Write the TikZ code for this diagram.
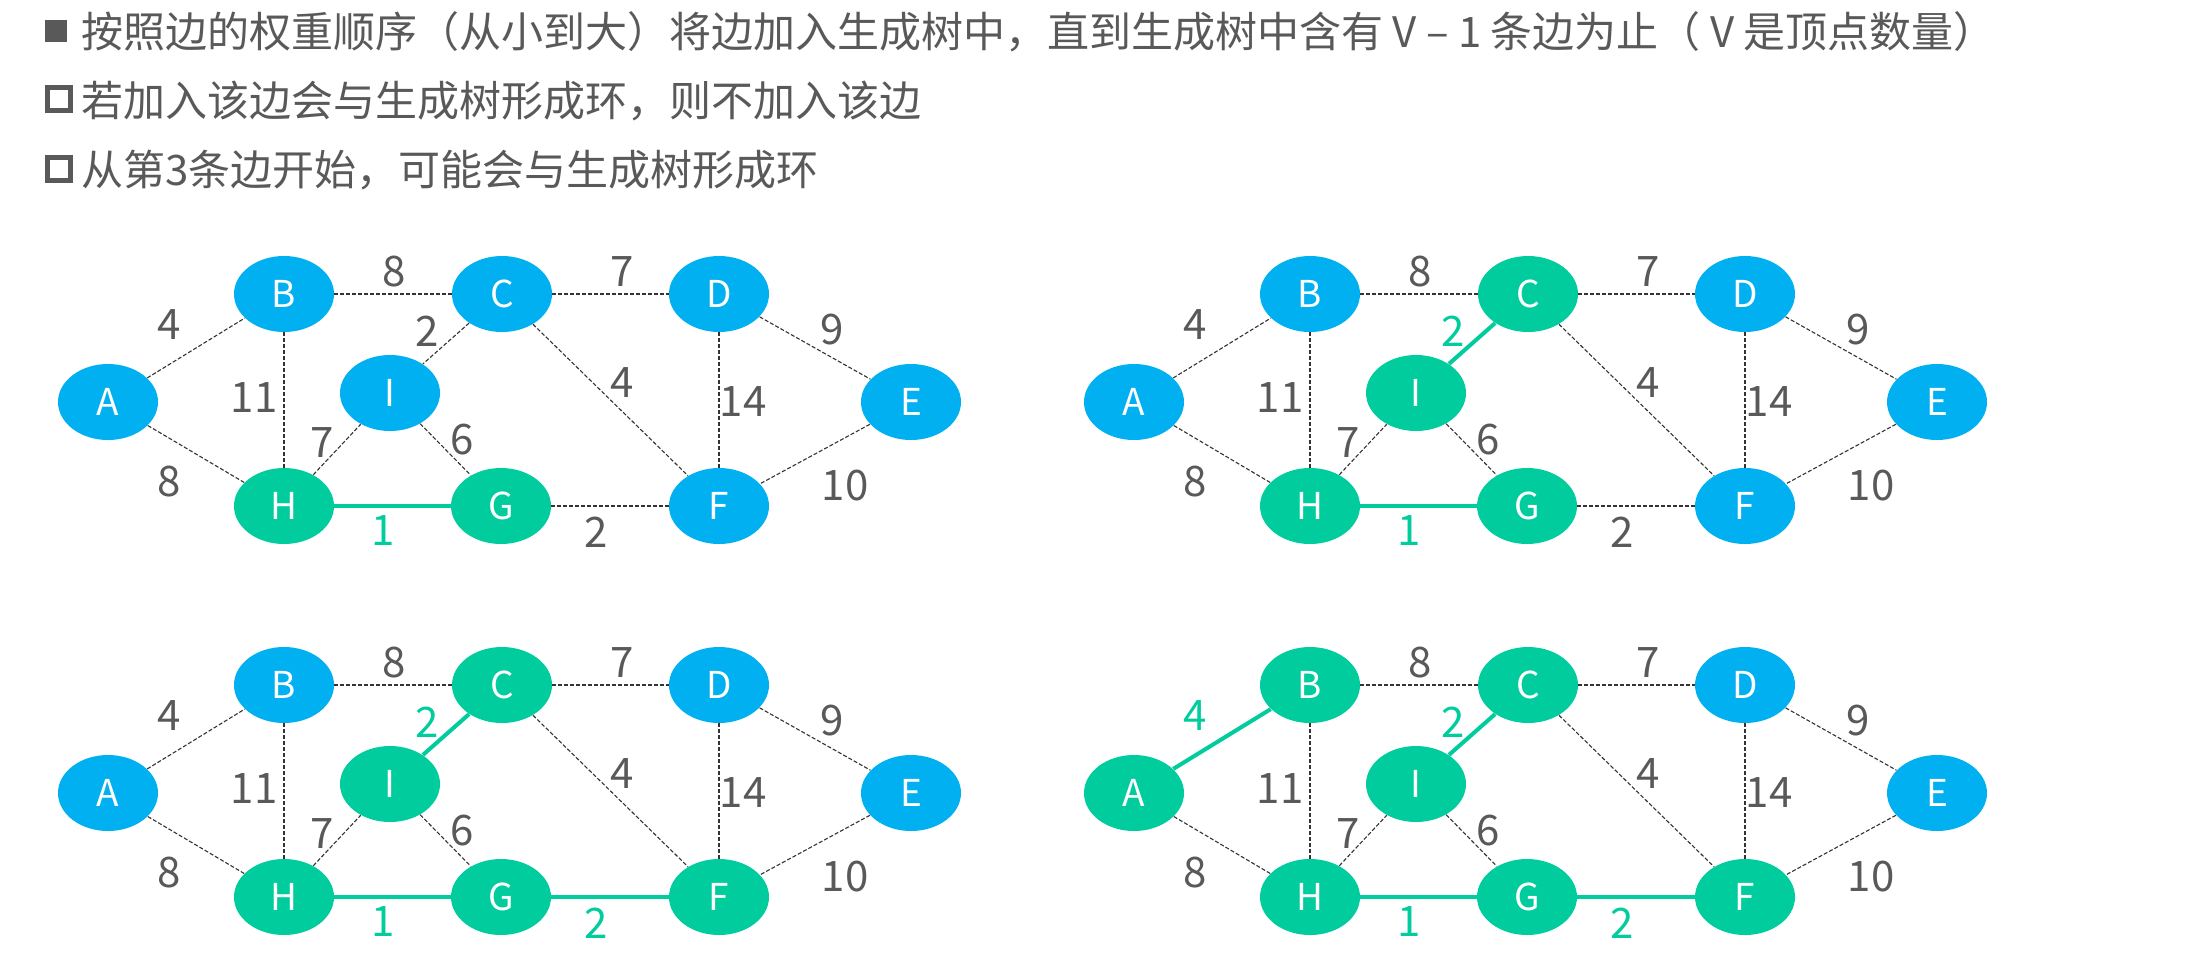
\documentclass[tikz,border=0pt]{standalone}
\usepackage{fontspec}
\setmainfont{Noto Sans CJK SC}
\usepackage{xcolor}
\usetikzlibrary{shapes.geometric}

\definecolor{vblue}{HTML}{00B0F0}
\definecolor{vgreen}{HTML}{00CC9E}
\definecolor{txtgray}{HTML}{595959}

\tikzset{
    vtx/.style={ellipse, minimum width=50pt, minimum height=38pt, inner sep=0pt,
        fill=vblue, text=white, font=\fontsize{18.5}{18.5}\selectfont},
    intree/.style={fill=vgreen},
    link/.style={draw=black!80, line width=0.55pt, dash pattern=on 2pt off 1pt, text=txtgray},
    treeedge/.style={draw=vgreen, line width=2pt, solid, text=vgreen},
    wt/.style={inner sep=0pt, font=\fontsize{21}{21}\selectfont},
    title/.style={anchor=base west, inner sep=0pt, text=txtgray, font=\fontsize{21}{24}\selectfont},
}

% one panel of the graph, colours come from the scope
\newcommand\kruskalgraph{%
    \node[vtx, vA/.try] (A) at (108,402) {A};
    \node[vtx, vB/.try] (B) at (284,294) {B};
    \node[vtx, vC/.try] (C) at (502,294) {C};
    \node[vtx, vD/.try] (D) at (719,294) {D};
    \node[vtx, vE/.try] (E) at (911,402) {E};
    \node[vtx, vI/.try] (I) at (390,393) {I};
    \node[vtx, vH/.try] (H) at (284,506) {H};
    \node[vtx, vG/.try] (G) at (501,506) {G};
    \node[vtx, vF/.try] (F) at (719,506) {F};
    \draw[link, eAB/.try] (A) -- (B) node[wt] at (169,325) {4};
    \draw[link, eAH/.try] (A) -- (H) node[wt] at (169,482) {8};
    \draw[link, eBC/.try] (B) -- (C) node[wt] at (394,272) {8};
    \draw[link, eBH/.try] (B) -- (H) node[wt] at (254,398) {11};
    \draw[link, eCD/.try] (C) -- (D) node[wt] at (622,272) {7};
    \draw[link, eCI/.try] (C) -- (I) node[wt] at (427,331) {2};
    \draw[link, eCF/.try] (C) -- (F) node[wt] at (622,383) {4};
    \draw[link, eDE/.try] (D) -- (E) node[wt] at (832,330) {9};
    \draw[link, eDF/.try] (D) -- (F) node[wt] at (743,402) {14};
    \draw[link, eEF/.try] (E) -- (F) node[wt] at (845,486) {10};
    \draw[link, eHI/.try] (H) -- (I) node[wt] at (322,443) {7};
    \draw[link, eIG/.try] (I) -- (G) node[wt] at (462,440) {6};
    \draw[link, eHG/.try] (H) -- (G) node[wt] at (383,531) {1};
    \draw[link, eGF/.try] (G) -- (F) node[wt] at (596,532) {2};
}

\begin{document}
\begin{tikzpicture}[x=0.5pt,y=-0.5pt]
    \fill[white] (0,0) rectangle (2204,954);
    \useasboundingbox (0,0) rectangle (2204,954);

    % bullets and text
    \node[fill=txtgray, minimum size=11pt, inner sep=0pt] (b1) at (55.5,31) {};
    \node[draw=txtgray, line width=2.5pt, minimum size=11.5pt, inner sep=0pt] (b2) at (59,99) {};
    \node[draw=txtgray, line width=2.5pt, minimum size=11.5pt, inner sep=0pt] (b3) at (59,168.5) {};
    \node[title] (t1) at (81,47) {按照边的权重顺序（从小到大）将边加入生成树中，直到生成树中含有 V – 1 条边为止（ V 是顶点数量）};
    \node[title] (t2) at (81,116.5) {若加入该边会与生成树形成环，则不加入该边};
    \node[title] (t3) at (81,185.5) {从第3条边开始，可能会与生成树形成环};

    % step 1
    \begin{scope}[name prefix=s1-, vH/.style=intree, vG/.style=intree, eHG/.style=treeedge]
        \kruskalgraph
    \end{scope}
    % step 2
    \begin{scope}[shift={(1026,0)}, name prefix=s2-,
            vC/.style=intree, vI/.style=intree, vH/.style=intree, vG/.style=intree,
            eHG/.style=treeedge, eCI/.style=treeedge]
        \kruskalgraph
    \end{scope}
    % step 3
    \begin{scope}[shift={(0,391)}, name prefix=s3-,
            vC/.style=intree, vI/.style=intree, vH/.style=intree, vG/.style=intree, vF/.style=intree,
            eHG/.style=treeedge, eCI/.style=treeedge, eGF/.style=treeedge]
        \kruskalgraph
    \end{scope}
    % step 4
    \begin{scope}[shift={(1026,391)}, name prefix=s4-,
            vA/.style=intree, vB/.style=intree, vC/.style=intree, vI/.style=intree,
            vH/.style=intree, vG/.style=intree, vF/.style=intree,
            eHG/.style=treeedge, eCI/.style=treeedge, eGF/.style=treeedge, eAB/.style=treeedge]
        \kruskalgraph
    \end{scope}
\end{tikzpicture}
\end{document}
